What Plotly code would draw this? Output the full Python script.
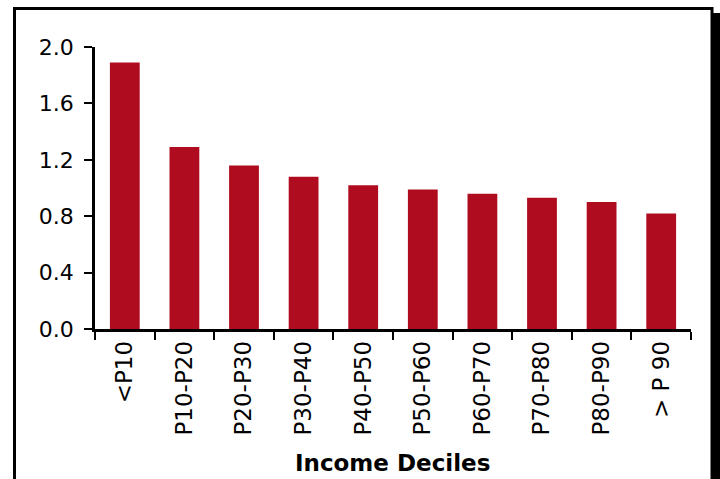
import plotly.graph_objects as go

categories = ["<P10", "P10-P20", "P20-P30", "P30-P40", "P40-P50",
              "P50-P60", "P60-P70", "P70-P80", "P80-P90", "> P 90"]
values = [1.89, 1.29, 1.16, 1.08, 1.02, 0.99, 0.96, 0.93, 0.90, 0.82]
y_ticks = [0.0, 0.4, 0.8, 1.2, 1.6, 2.0]
x_title = "Income Deciles"

W, H = 720, 479
L, R, T, B = 95, 29, 47, 150
pw, ph = W - L - R, H - T - B

def px_x(p):
    return (p - L) / pw

def px_y(p):
    return (H - B - p) / ph

font_family = "Verdana, DejaVu Sans, sans-serif"

fig = go.Figure(go.Bar(
    x=categories, y=values, width=0.5,
    marker=dict(color="#AF0C1F", line=dict(width=0)),
))

fig.update_layout(
    width=W, height=H,
    margin=dict(l=L, r=R, t=T, b=B, autoexpand=False),
    paper_bgcolor="white", plot_bgcolor="white",
    showlegend=False,
    font=dict(family=font_family, size=22, color="black"),
    xaxis=dict(
        type="category", range=[-0.5, 9.5], tickangle=-90,
        ticks="outside", ticklen=8, tickwidth=2, tickcolor="black",
        tickson="boundaries",
        showline=True, linewidth=2.5, linecolor="black",
        showgrid=False, zeroline=False, automargin=False,
        tickfont=dict(size=23, family=font_family),
    ),
    yaxis=dict(
        range=[0, 2.0], tickvals=y_ticks, ticktext=[f"{v:.1f}" for v in y_ticks],
        ticks="outside", ticklen=8, tickwidth=2, tickcolor="black",
        ticklabelstandoff=6,
        showline=True, linewidth=2.5, linecolor="black",
        showgrid=False, zeroline=False, automargin=False,
        tickfont=dict(size=22, family=font_family),
    ),
    annotations=[dict(
        text="<b>" + x_title + "</b>", xref="paper", yref="paper",
        x=px_x(392), y=px_y(463), xanchor="center", yanchor="middle",
        showarrow=False, font=dict(size=23, family=font_family, color="black"),
    )],
    shapes=[
        dict(type="rect", xref="paper", yref="paper",
             x0=px_x(713), x1=px_x(722), y0=px_y(13), y1=px_y(500),
             fillcolor="black", line=dict(width=0), layer="above"),
        dict(type="rect", xref="paper", yref="paper",
             x0=px_x(14.5), x1=px_x(712), y0=px_y(8.5), y1=px_y(500),
             line=dict(color="black", width=3), layer="above"),
    ],
)

fig.write_html(
    "out.html",
    config={"displayModeBar": False},
    post_script="document.body.style.margin='0';document.body.style.padding='0';document.body.style.overflow='hidden';",
)
